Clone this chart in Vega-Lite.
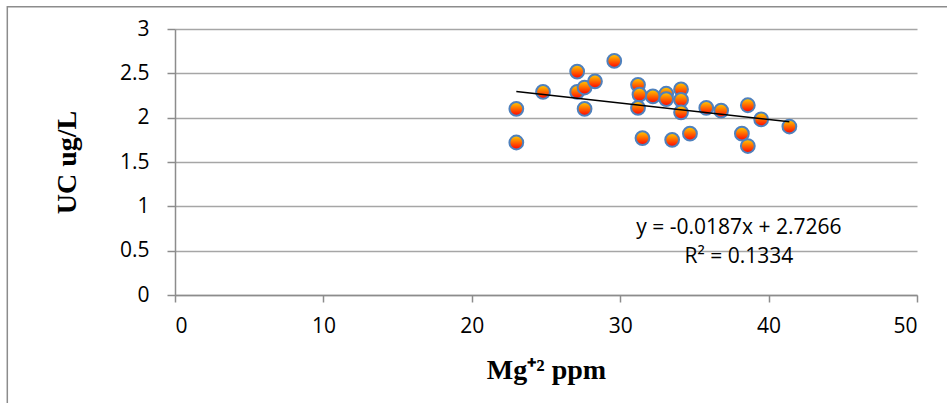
{
  "$schema": "https://vega.github.io/schema/vega-lite/v6.json",
  "width": 742,
  "height": 266,
  "autosize": {"type": "none"},
  "padding": {"left": 175, "top": 29, "right": 30, "bottom": 108},
  "background": "white",
  "config": {"view": {"stroke": null}},
  "data": {
    "values": [
      {"mg": 23.0, "uc": 1.72},
      {"mg": 23.0, "uc": 2.10},
      {"mg": 24.8, "uc": 2.29},
      {"mg": 27.1, "uc": 2.52},
      {"mg": 27.1, "uc": 2.29},
      {"mg": 27.6, "uc": 2.34},
      {"mg": 27.6, "uc": 2.10},
      {"mg": 28.3, "uc": 2.41},
      {"mg": 29.6, "uc": 2.64},
      {"mg": 31.2, "uc": 2.37},
      {"mg": 31.3, "uc": 2.26},
      {"mg": 31.2, "uc": 2.11},
      {"mg": 31.5, "uc": 1.77},
      {"mg": 32.2, "uc": 2.24},
      {"mg": 33.1, "uc": 2.27},
      {"mg": 33.1, "uc": 2.21},
      {"mg": 33.5, "uc": 1.75},
      {"mg": 34.1, "uc": 2.32},
      {"mg": 34.1, "uc": 2.20},
      {"mg": 34.1, "uc": 2.06},
      {"mg": 34.7, "uc": 1.82},
      {"mg": 35.8, "uc": 2.11},
      {"mg": 36.8, "uc": 2.08},
      {"mg": 38.2, "uc": 1.82},
      {"mg": 38.6, "uc": 2.14},
      {"mg": 38.6, "uc": 1.68},
      {"mg": 39.5, "uc": 1.98},
      {"mg": 41.4, "uc": 1.90}
    ]
  },
  "layer": [
    {
      "data": {"values": [{}]},
      "mark": {"type": "rect", "fill": null, "stroke": "#8c8c8c", "strokeWidth": 1.5, "clip": false},
      "encoding": {
        "x": {"datum": -11.3, "type": "quantitative", "scale": {"domain": [0, 50], "nice": false, "zero": false}},
        "x2": {"datum": 70},
        "y": {"datum": 3.25, "type": "quantitative", "scale": {"domain": [0, 3], "nice": false}},
        "y2": {"datum": -3}
      }
    },
    {
      "mark": {"type": "point", "shape": "circle", "filled": true, "size": 190, "opacity": 1,
        "fill": {"gradient": "linear", "x1": 0, "y1": 0, "x2": 0, "y2": 1,
          "stops": [{"offset": 0, "color": "#ffd000"}, {"offset": 1, "color": "#ff0000"}]},
        "stroke": "#4f81bd", "strokeWidth": 2},
      "encoding": {
        "x": {
          "field": "mg", "type": "quantitative",
          "scale": {"domain": [0, 50], "nice": false, "zero": false},
          "axis": {
            "values": [0, 10, 20, 30, 40, 50], "grid": false, "format": "~g",
            "title": "Mg⁺² ppm",
            "labelFont": "Open Sans", "labelFontSize": 21, "labelColor": "#000000", "labelPadding": 13,
            "titleFont": "Liberation Serif", "titleFontSize": 28, "titleFontWeight": "bold", "titleColor": "#000000", "titlePadding": 20,
            "domainColor": "#8c8c8c", "domainWidth": 1.5, "tickColor": "#8c8c8c", "tickWidth": 1.5, "tickSize": 7
          }
        },
        "y": {
          "field": "uc", "type": "quantitative",
          "scale": {"domain": [0, 3], "nice": false},
          "axis": {
            "values": [0, 0.5, 1, 1.5, 2, 2.5, 3], "grid": true, "format": "~g",
            "title": "UC ug/L",
            "labelFont": "Open Sans", "labelFontSize": 21, "labelColor": "#000000", "labelPadding": 18,
            "titleFont": "Liberation Serif", "titleFontSize": 28, "titleFontWeight": "bold", "titleColor": "#000000", "titlePadding": 38,
            "domainColor": "#8c8c8c", "domainWidth": 1.5, "tickColor": "#8c8c8c", "tickWidth": 1.5, "tickSize": 8,
            "gridColor": "#a6a6a6", "gridWidth": 1.5
          }
        }
      }
    },
    {
      "mark": {"type": "line", "color": "#000000", "strokeWidth": 1.5},
      "transform": [{"regression": "uc", "on": "mg", "extent": [23.0, 41.4]}],
      "encoding": {
        "x": {"field": "mg", "type": "quantitative"},
        "y": {"field": "uc", "type": "quantitative"}
      }
    },
    {
      "data": {"values": [{}]},
      "mark": {"type": "text", "font": "Open Sans", "fontSize": 21, "color": "#000000", "align": "center", "baseline": "alphabetic"},
      "encoding": {
        "x": {"datum": 38.0, "type": "quantitative"},
        "y": {"datum": 0.69, "type": "quantitative"},
        "text": {"value": "y = -0.0187x + 2.7266"}
      }
    },
    {
      "data": {"values": [{}]},
      "mark": {"type": "text", "font": "Open Sans", "fontSize": 21, "color": "#000000", "align": "center", "baseline": "alphabetic"},
      "encoding": {
        "x": {"datum": 38.0, "type": "quantitative"},
        "y": {"datum": 0.36, "type": "quantitative"},
        "text": {"value": "R² = 0.1334"}
      }
    }
  ]
}
